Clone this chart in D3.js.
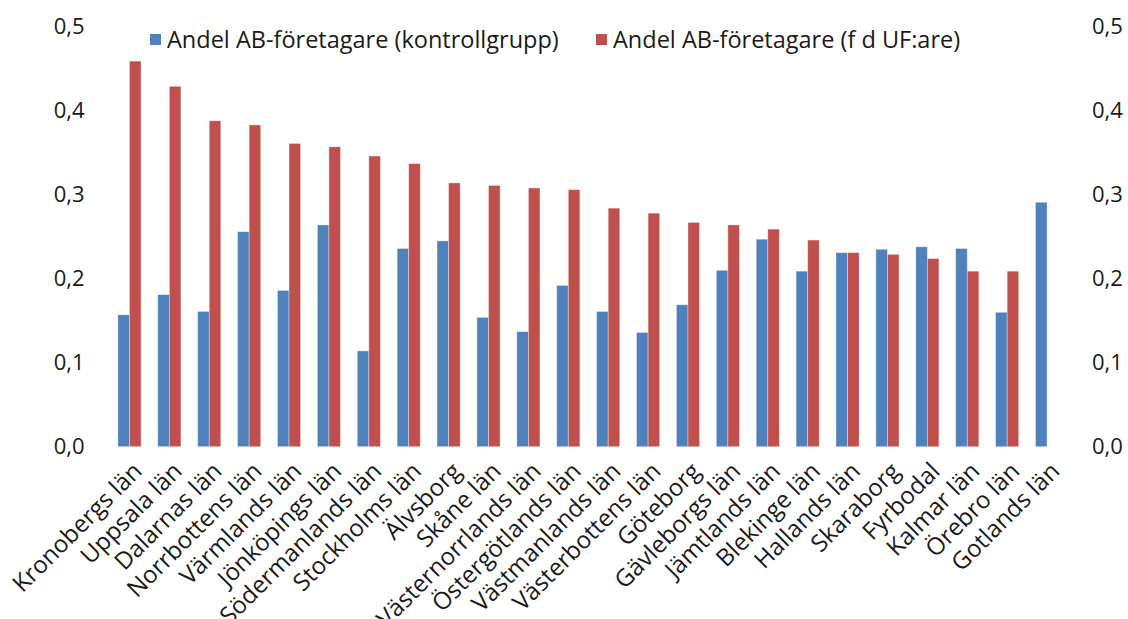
<!DOCTYPE html>
<html>
<head>
<meta charset="utf-8">
<script src="https://cdn.jsdelivr.net/npm/d3@7"></script>
<style>
  html, body { margin: 0; padding: 0; background: #fff; }
  svg text { font-family: "Open Sans", sans-serif; fill: #1a1a1a; }
</style>
</head>
<body>
<div id="chart"></div>
<script>
// --- Data ---
const categories = [
    "Kronobergs län", "Uppsala län", "Dalarnas län", "Norrbottens län",
    "Värmlands län", "Jönköpings län", "Södermanlands län", "Stockholms län",
    "Älvsborg", "Skåne län", "Västernorrlands län", "Östergötlands län",
    "Västmanlands län", "Västerbottens län", "Göteborg", "Gävleborgs län",
    "Jämtlands län", "Blekinge län", "Hallands län", "Skaraborg",
    "Fyrbodal", "Kalmar län", "Örebro län", "Gotlands län"
];
const kontrollgrupp = [
    0.157, 0.181, 0.161, 0.256, 0.186, 0.264, 0.114, 0.236,
    0.245, 0.154, 0.137, 0.192, 0.161, 0.136, 0.169, 0.210,
    0.247, 0.209, 0.231, 0.235, 0.238, 0.236, 0.160, 0.291
];
const ufare = [
    0.459, 0.429, 0.388, 0.383, 0.361, 0.357, 0.346, 0.337,
    0.314, 0.311, 0.308, 0.306, 0.284, 0.278, 0.267, 0.264,
    0.259, 0.246, 0.231, 0.229, 0.224, 0.209, 0.209, null
];
const seriesNames = ["Andel AB-företagare (kontrollgrupp)", "Andel AB-företagare (f d UF:are)"];
const seriesColors = ["#4F81BD", "#C0504D"];
const yTicks = [0, 0.1, 0.2, 0.3, 0.4, 0.5];

const width = 1128, height = 619;
const margin = { top: 26.7, right: 61, bottom: 172.3, left: 109.5 };

const svg = d3.select("#chart").append("svg")
    .attr("width", width)
    .attr("height", height);

const x = d3.scaleBand()
    .domain(categories)
    .range([margin.left, width - margin.right])
    .paddingInner(0.42)
    .paddingOuter(0.21);

const xSub = d3.scaleBand()
    .domain([0, 1])
    .range([0, x.bandwidth()]);

const y = d3.scaleLinear()
    .domain([0, 0.5])
    .range([height - margin.bottom, margin.top]);

const fmt = v => d3.format(".1f")(v).replace(".", ",");

// Bars
const rows = categories.map((c, i) => ({ cat: c, vals: [kontrollgrupp[i], ufare[i]] }));
const groups = svg.append("g").selectAll("g")
    .data(rows)
    .enter().append("g")
    .attr("transform", d => `translate(${x(d.cat)},0)`);

groups.selectAll("rect")
    .data(d => d.vals.map((v, k) => ({ v, k })).filter(e => e.v != null))
    .enter().append("rect")
    .attr("x", d => xSub(d.k))
    .attr("y", d => y(d.v))
    .attr("width", xSub.bandwidth())
    .attr("height", d => y(0) - y(d.v))
    .attr("fill", d => seriesColors[d.k])
    .attr("stroke", "rgba(255,255,255,0.45)")
    .attr("stroke-width", 0.8);

// Left axis
const yLeft = d3.axisLeft(y).tickValues(yTicks).tickFormat(fmt).tickSize(0).tickPadding(25);
svg.append("g")
    .attr("transform", `translate(${margin.left},0)`)
    .call(yLeft)
    .call(g => g.select(".domain").remove())
    .selectAll("text")
    .style("font-size", "22px");

// Right axis
const yRight = d3.axisRight(y).tickValues(yTicks).tickFormat(fmt).tickSize(0).tickPadding(25);
svg.append("g")
    .attr("transform", `translate(${width - margin.right},0)`)
    .call(yRight)
    .call(g => g.select(".domain").remove())
    .selectAll("text")
    .style("font-size", "22px");

// X labels (rotated)
const xAxis = d3.axisBottom(x).tickSize(0).tickPadding(0);
svg.append("g")
    .attr("transform", `translate(0,${y(0)})`)
    .call(xAxis)
    .call(g => g.select(".domain").remove())
    .selectAll("text")
    .style("font-size", "24px")
    .attr("text-anchor", "end")
    .attr("dy", null)
    .attr("y", 0)
    .attr("transform", "translate(14,26) rotate(-45)");

// Legend
const legend = svg.append("g");
const legendX = [150, 596];
seriesNames.forEach((name, k) => {
    legend.append("rect")
        .attr("x", legendX[k])
        .attr("y", 34)
        .attr("width", 11)
        .attr("height", 11)
        .attr("fill", seriesColors[k]);
    legend.append("text")
        .attr("x", legendX[k] + 17)
        .attr("y", 40)
        .attr("dy", "0.35em")
        .style("font-size", "23.5px")
        .text(name);
});
</script>
</body>
</html>
